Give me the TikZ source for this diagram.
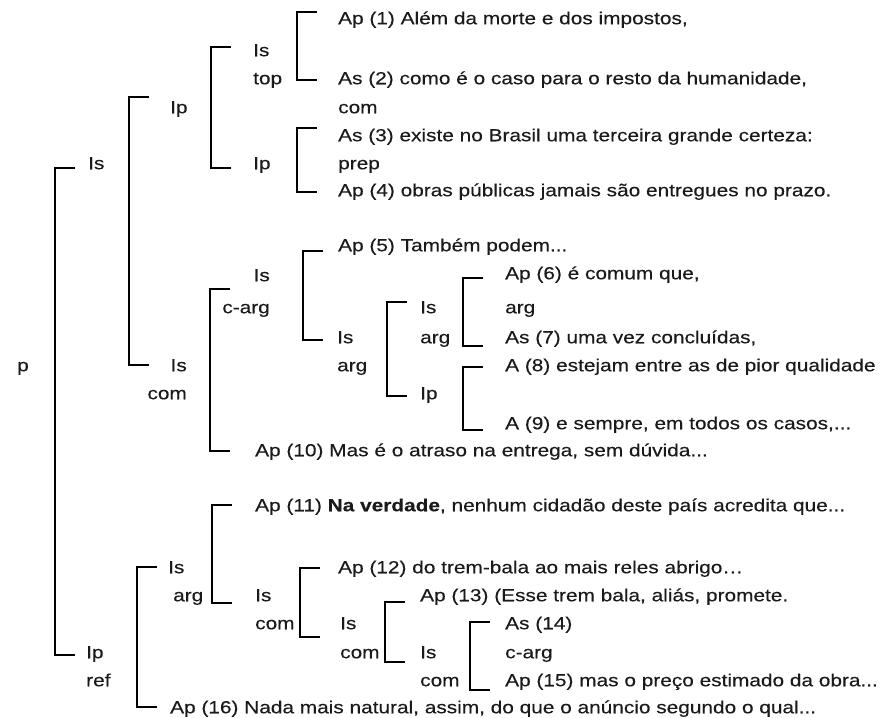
\documentclass[tikz,border=0pt]{standalone}
\usepackage{fontspec}
\setmainfont{Liberation Sans}[FakeStretch=1.19,FakeBold=0.25]
\usetikzlibrary{calc}
\definecolor{ink}{HTML}{1A1A1A}
\newcommand{\bkt}[5]{\draw[brk] ($(#1,0 |- #2.west)+(20,#3)$) -- ($(#1,0 |- #2.west)+(0,#3)$) -- ($(#1,0 |- #4.west)+(0,#5)$) -- ($(#1,0 |- #4.west)+(20,#5)$);}
\tikzset{lab/.style={anchor=west,inner sep=0pt,text height=12.5pt,text depth=0pt,text=ink,font=\fontsize{17.5}{21}\selectfont},labr/.style={lab,anchor=east},brk/.style={draw=black,line width=2.1pt}}

\begin{document}
\begin{tikzpicture}[x=1pt,y=-1pt]
\useasboundingbox (0,0) rectangle (885,717);
\node[lab] (p) at (17,365) {p};
\node[lab] (n1) at (88,163) {Is};
\node[lab] (n2) at (170,107) {Ip};
\node[lab] (n3) at (253,50) {Is};
\node[lab] (n3r) at (253,78) {top};
\node[lab] (n4) at (253,163) {Ip};
\node[lab] (a1) at (338,18) {Ap (1) Além da morte e dos impostos,};
\node[lab] (a2) at (338,78) {As (2) como é o caso para o resto da humanidade,};
\node[lab] (r1) at (338,107) {com};
\node[lab] (a3) at (338,135) {As (3) existe no Brasil uma terceira grande certeza:};
\node[lab] (r2) at (338,163) {prep};
\node[lab] (a4) at (338,190) {Ap (4) obras públicas jamais são entregues no prazo.};
\node[labr] (n5) at (187,365) {Is};
\node[labr] (n5r) at (187,393) {com};
\node[labr] (n6) at (270,275) {Is};
\node[labr] (n6r) at (270,307) {c-arg};
\node[lab] (a5) at (338,245) {Ap (5) Também podem...};
\node[lab] (n7) at (337,337) {Is};
\node[lab] (n7r) at (337,365) {arg};
\node[lab] (n8) at (420,307) {Is};
\node[lab] (n8r) at (420,337) {arg};
\node[lab] (n9) at (420,393) {Ip};
\node[lab] (a6) at (505,273) {Ap (6) é comum que,};
\node[lab] (r3) at (505,307) {arg};
\node[lab] (a7) at (505,337) {As (7) uma vez concluídas,};
\node[lab] (a8) at (505,365) {A (8) estejam entre as de pior qualidade};
\node[lab] (a9) at (505,423) {A (9) e sempre, em todos os casos,...};
\node[lab] (a10) at (255,450) {Ap (10) Mas é o atraso na entrega, sem dúvida...};
\node[lab] (n10) at (86,652) {Ip};
\node[lab] (n10r) at (86,680) {ref};
\node[lab] (n11) at (168,567) {Is};
\node[lab] (n11r) at (173,595) {arg};
\node[lab] (a11) at (255,505) {Ap (11) \textbf{Na verdade}, nenhum cidadão deste país acredita que...};
\node[lab] (n12) at (255,595) {Is};
\node[lab] (n12r) at (255,623) {com};
\node[lab] (a12) at (338,567) {Ap (12) do trem-bala ao mais reles abrigo…};
\node[lab] (n13) at (340,623) {Is};
\node[lab] (n13r) at (340,652) {com};
\node[lab] (a13) at (420,595) {Ap (13) (Esse trem bala, aliás, promete.};
\node[lab] (n14) at (420,652) {Is};
\node[lab] (n14r) at (420,680) {com};
\node[lab] (a14) at (505,623) {As (14)};
\node[lab] (r4) at (505,652) {c-arg};
\node[lab] (a15) at (505,680) {Ap (15) mas o preço estimado da obra...};
\node[lab] (a16) at (170,707) {Ap (16) Nada mais natural, assim, do que o anúncio segundo o qual...};
\bkt{55}{n1}{5}{n10}{3}
\bkt{129}{n2}{-10}{n5}{0}
\bkt{211}{n3}{-3}{n4}{5}
\bkt{297}{a1}{-6}{a2}{2}
\bkt{297}{a3}{-7}{a4}{2}
\bkt{210}{n6}{14}{a10}{1}
\bkt{303}{a5}{6}{n7}{3}
\bkt{387}{n8}{-5}{n9}{3}
\bkt{463}{a6}{5}{a7}{9}
\bkt{463}{a8}{2}{a9}{7}
\bkt{137}{n11}{0}{a16}{0}
\bkt{212}{a11}{0}{n12}{8}
\bkt{300}{a12}{1}{n13}{14}
\bkt{385}{a13}{7}{n14}{10}
\bkt{470}{a14}{-1}{a15}{10}
\end{tikzpicture}
\end{document}
